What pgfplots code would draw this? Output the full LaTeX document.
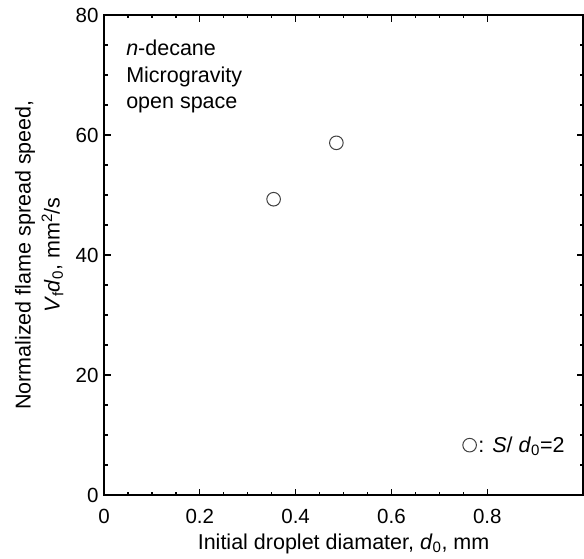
\documentclass[border=0pt]{standalone}
\usepackage{pgfplots}
\pgfplotsset{compat=1.18}
\usepackage{fontspec}
\setmainfont{Liberation Sans}
\begin{document}
\begin{tikzpicture}
  \begin{axis}[
    scale only axis,
    width=479pt, height=480pt,
    xmin=0, xmax=1, ymin=0, ymax=80,
    xtick={0,0.2,0.4,0.6,0.8},
    ytick={0,20,40,60,80},
    minor x tick num=3,
    minor y tick num=3,
    tick align=inside,
    major tick length=6.5pt,
    minor tick length=3.5pt,
    axis line style={line width=1.8pt},
    every tick/.style={line width=1.3pt, black},
    xticklabel style={/pgf/number format/fixed, anchor=base, yshift=-28pt},
    yticklabel style={xshift=-2pt},
    /pgf/number format/assume math mode=true,
    ticklabel style={font=\fontsize{20.5}{24}\selectfont},
    label style={font=\fontsize{21.5}{29}\selectfont},
    xlabel={Initial droplet diamater, \textit{d}\textsubscript{0}, mm},
    ylabel={Normalized flame spread speed,\\\textit{V}\textsubscript{f}\textit{d}\textsubscript{0}, mm\textsuperscript{2}/s},
    ylabel style={align=center, at={(axis description cs:-0.1354,0.5)}, anchor=center},
    xlabel style={at={(axis description cs:0.5,0)}, anchor=base, yshift=-54pt},
    legend style={draw=none, fill=none, at={(0.968,0.104)}, anchor=east,
      font=\fontsize{21.5}{24}\selectfont, inner sep=1pt},
    legend cell align=left,
    clip=false,
  ]
    \addplot[only marks, mark=o, mark size=6.8pt, black!75, line width=1pt,
      mark options={fill=white}] coordinates {(0.354,49.3) (0.485,58.7)};
    \addlegendentry{: \textit{S}/ \textit{d}\textsubscript{0}=2}
    \node[anchor=north west, align=left, font=\fontsize{21.5}{26.5}\selectfont, inner sep=0pt]
      at (axis cs:0.046,75.8) {\textit{n}-decane\\Microgravity\\open space};
    \path (rel axis cs:0,0) ++(-104pt,-63pt);
    \path (rel axis cs:1,1) ++(0pt,15pt);
  \end{axis}
\end{tikzpicture}
\end{document}
